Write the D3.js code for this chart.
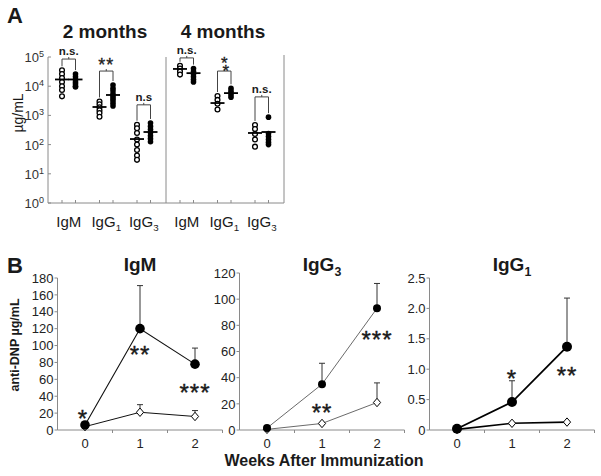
<!DOCTYPE html>
<html><head><meta charset="utf-8">
<script src="https://cdn.jsdelivr.net/npm/d3@7"></script>
<style>body{margin:0;background:#fff} svg{display:block;font-family:"Liberation Sans",Arial,sans-serif}</style>
</head><body><svg id="c" width="601" height="476"></svg>
<script>
// ---------- Panel A data ----------
const monthGroups = ["2 months", "4 months"];
const isotypesA = ["IgM", "IgG1", "IgG3"];
const open2mo = [[35000, 26000, 19000, 14000, 10000, 7400, 4500], [3000, 2400, 1900, 1500, 1200, 900], [480, 360, 250, 150, 100, 65, 42, 30]];
const filled2mo = [[26000, 21000, 17000, 14000, 12000, 10000, 9400], [11000, 8500, 7000, 5500, 4500, 3800, 3200, 2600, 2100], [550, 420, 330, 260, 200, 160, 125]];
const open4mo = [[50000, 40000, 32000, 25000], [4600, 3400, 2500, 1600], [470, 340, 230, 150, 85]];
const filled4mo = [[40000, 32000, 26000, 21000, 17000, 14000], [8500, 7000, 6000, 5000, 4200], [870, 240, 190, 150, 120, 100]];
const meanOpen2mo = [17000, 1940, 155];
const meanFilled2mo = [17000, 5000, 270];
const meanOpen4mo = [39000, 2650, 250];
const meanFilled4mo = [28000, 5800, 270];
const bracketTop2mo = [85000, 33000, 2300];
const bracketTop4mo = [93000, 33000, 4300];
const sig2mo = ["n.s.", "**", "n.s"];
const sig4mo = ["n.s.", "* *", "n.s."];
const yTicksA = [1, 10, 100, 1000, 10000, 100000];

// ---------- Panel B data ----------
const weeks = [0, 1, 2];
const igmFilled = [6, 120, 78], igmFilledErr = [0, 51, 19];
const igmOpen = [4, 21, 16], igmOpenErr = [0, 9, 7];
const igmStars = ["*", "**", "***"], igmStarY = [21, 96, 51];
const igg3Filled = [1.5, 35, 93], igg3FilledErr = [0, 16, 19];
const igg3Open = [0.5, 5, 21], igg3OpenErr = [0, 0, 15];
const igg3Stars = ["", "**", "***"], igg3StarY = [0, 17.6, 74];
const igg1Filled = [0.02, 0.46, 1.37], igg1FilledErr = [0, 0.35, 0.8];
const igg1Open = [0.01, 0.11, 0.13], igg1OpenErr = [0, 0, 0];
const igg1Stars = ["", "*", "**"], igg1StarY = [0, 0.94, 1.0];
const igmTicks = d3.range(0, 181, 20);
const igg3Ticks = d3.range(0, 121, 20);
const igg1Ticks = [0, 0.5, 1, 1.5, 2, 2.5];

const svg = d3.select("#c");
const TXT = "#1a1a1a", AX = "#8a8a8a";

// ================= PANEL A =================
const yA = d3.scaleLog().domain([1, 1e5]).range([203, 57]);
const xMonth = d3.scaleBand().domain(monthGroups).range([48, 284]);
const xIso = d3.scaleBand().domain(isotypesA).range([2, 114.5]);
const dx = xIso.bandwidth() * 0.18;
const gA = svg.append("g");

svg.append("text").attr("x", 7).attr("y", 23).attr("font-size", 22).attr("font-weight", "bold").attr("fill", TXT).text("A");
monthGroups.forEach(m => {
  gA.append("text").attr("x", xMonth(m) + xMonth.bandwidth() / 2 - 2).attr("y", 38)
    .attr("text-anchor", "middle").attr("font-size", 19).attr("font-weight", "bold").attr("fill", TXT).text(m);
});
const [yb, yt] = yA.range();
gA.append("line").attr("x1", 48).attr("x2", 48).attr("y1", yt).attr("y2", yb).attr("stroke", AX);
gA.append("line").attr("x1", 48).attr("x2", xMonth.range()[1]).attr("y1", yb).attr("y2", yb).attr("stroke", AX);
gA.append("line").attr("x1", xMonth(monthGroups[1])).attr("x2", xMonth(monthGroups[1])).attr("y1", yt).attr("y2", yb).attr("stroke", AX);
gA.append("line").attr("x1", xMonth.range()[1]).attr("x2", xMonth.range()[1]).attr("y1", yt - 2).attr("y2", yb).attr("stroke", AX);
yTicksA.forEach(v => {
  gA.append("line").attr("x1", 48).attr("x2", 51).attr("y1", yA(v)).attr("y2", yA(v)).attr("stroke", AX);
  const t = gA.append("text").attr("x", 44).attr("y", yA(v) + 5).attr("text-anchor", "end").attr("font-size", 13).attr("fill", "#333");
  t.append("tspan").text("10");
  t.append("tspan").attr("dy", -5).attr("font-size", 9).text(Math.round(Math.log10(v)));
});
svg.append("text").attr("transform", "translate(23,113) rotate(-90)").attr("text-anchor", "middle")
  .attr("font-size", 14).attr("fill", TXT).text("µg/mL");

function isoLabel(g, x, y, name, size, bold) {
  const t = g.append("text").attr("x", x).attr("y", y).attr("text-anchor", "middle").attr("font-size", size).attr("fill", TXT);
  if (bold) t.attr("font-weight", "bold");
  if (name.startsWith("IgG")) {
    t.append("tspan").text("IgG");
    t.append("tspan").attr("dy", size * 0.25).attr("font-size", size * 0.65).text(name.slice(3));
  } else t.text(name);
  return t;
}

function drawMonth(m, openArr, filledArr, meanO, meanF, tops, sigs) {
  isotypesA.forEach((iso, i) => {
    const cx = xMonth(m) + xIso(iso) + xIso.bandwidth() / 2;
    const xo = cx - dx, xf = cx + dx;
    [xo, xf].forEach(x => gA.append("line").attr("x1", x).attr("x2", x).attr("y1", yb).attr("y2", yb - 3).attr("stroke", AX));
    isoLabel(gA, cx, 227, iso, 15, false);
    gA.selectAll(null).data(openArr[i]).enter().append("circle")
      .attr("cx", xo).attr("cy", d => yA(d)).attr("r", 2.4).attr("fill", "#fff").attr("stroke", "#000").attr("stroke-width", 1.3);
    gA.selectAll(null).data(filledArr[i]).enter().append("circle")
      .attr("cx", xf).attr("cy", d => yA(d)).attr("r", 2.8).attr("fill", "#000");
    gA.append("line").attr("x1", xo - 7).attr("x2", xo + 7).attr("y1", yA(meanO[i])).attr("y2", yA(meanO[i])).attr("stroke", "#000").attr("stroke-width", 1.8);
    gA.append("line").attr("x1", xf - 7).attr("x2", xf + 7).attr("y1", yA(meanF[i])).attr("y2", yA(meanF[i])).attr("stroke", "#000").attr("stroke-width", 1.8);
    const ty = yA(tops[i]);
    const lo = yA(d3.max(openArr[i])) - 4, lf = yA(d3.max(filledArr[i])) - 4;
    gA.append("path").attr("d", `M${xo},${lo}V${ty}H${xf}V${lf}M${cx},${ty}V${ty - 2}`)
      .attr("fill", "none").attr("stroke", "#444").attr("stroke-width", 1);
    const s = sigs[i];
    if (s.startsWith("n")) {
      gA.append("text").attr("x", cx).attr("y", ty - 4).attr("text-anchor", "middle").attr("font-size", 11.5)
        .attr("font-weight", "bold").attr("fill", TXT).text(s);
    } else if (s === "* *") {
      const t = gA.append("text").attr("text-anchor", "middle").attr("font-size", 17).attr("fill", TXT)
        .attr("stroke", TXT).attr("stroke-width", 0.3);
      t.append("tspan").attr("x", cx).attr("y", ty - 12).attr("dy", "0.57em").text("*");
      t.append("tspan").attr("x", cx + 1.5).attr("y", ty - 4).attr("dy", "0.57em").text("*");
    } else {
      gA.append("text").attr("x", cx).attr("y", ty - 10).attr("dy", "0.57em").attr("text-anchor", "middle")
        .attr("font-size", 18).attr("letter-spacing", 1).attr("fill", TXT).attr("stroke", TXT).attr("stroke-width", 0.3).text(s);
    }
  });
}
drawMonth(monthGroups[0], open2mo, filled2mo, meanOpen2mo, meanFilled2mo, bracketTop2mo, sig2mo);
drawMonth(monthGroups[1], open4mo, filled4mo, meanOpen4mo, meanFilled4mo, bracketTop4mo, sig4mo);

// ================= PANEL B =================
svg.append("text").attr("x", 7).attr("y", 273).attr("font-size", 22).attr("font-weight", "bold").attr("fill", TXT).text("B");
svg.append("text").attr("transform", "translate(19,345) rotate(-90)").attr("text-anchor", "middle")
  .attr("font-size", 12.5).attr("font-weight", "bold").attr("fill", TXT).text("anti-DNP µg/mL");
svg.append("text").attr("x", 324).attr("y", 466).attr("text-anchor", "middle").attr("font-size", 16)
  .attr("font-weight", "bold").attr("fill", TXT).text("Weeks After Immunization");

function diamond(hw, hh) { return `M0,${-hh}L${hw},0L0,${hh}L${-hw},0Z`; }

function drawB(cfg) {
  const g = svg.append("g");
  const y = d3.scaleLinear().domain(cfg.domain).range([430, cfg.top]);
  const x = d3.scaleBand().domain(weeks).range(cfg.xr);
  const x0 = cfg.xr[0];
  g.append("line").attr("x1", x0).attr("x2", x0).attr("y1", y(cfg.domain[0])).attr("y2", y(cfg.domain[1])).attr("stroke", AX);
  g.append("line").attr("x1", x0).attr("x2", cfg.xr[1]).attr("y1", 430).attr("y2", 430).attr("stroke", AX);
  cfg.ticks.forEach(v => {
    g.append("line").attr("x1", x0 - 3).attr("x2", x0).attr("y1", y(v)).attr("y2", y(v)).attr("stroke", AX);
    g.append("text").attr("x", x0 - 4).attr("y", y(v)).attr("dy", "0.36em").attr("text-anchor", "end")
      .attr("font-size", 13).attr("fill", "#222").text(cfg.fmt(v));
  });
  weeks.forEach(w => {
    g.append("line").attr("x1", x(w) + x.bandwidth()).attr("x2", x(w) + x.bandwidth()).attr("y1", 430).attr("y2", 433).attr("stroke", AX);
    g.append("text").attr("x", x(w) + x.bandwidth() / 2).attr("y", 448).attr("text-anchor", "middle")
      .attr("font-size", 13).attr("fill", "#222").text(w);
  });
  isoLabel(g, cfg.titleX, 271, cfg.title, 19, true);
  const cx = w => x(w) + x.bandwidth() / 2;
  const line = d3.line().x((d, i) => cx(weeks[i])).y(d => y(d));
  [[cfg.open, cfg.openErr], [cfg.filled, cfg.filledErr]].forEach(([vals, errs]) => {
    vals.forEach((v, i) => {
      if (!errs[i]) return;
      const X = cx(weeks[i]);
      g.append("path").attr("d", `M${X},${y(v)}V${y(v + errs[i])}M${X - 3},${y(v + errs[i])}H${X + 3}`)
        .attr("stroke", "#333").attr("stroke-width", 1).attr("fill", "none");
    });
  });
  g.append("path").attr("d", line(cfg.open)).attr("fill", "none").attr("stroke", cfg.lc).attr("stroke-width", cfg.lwOpen);
  g.append("path").attr("d", line(cfg.filled)).attr("fill", "none").attr("stroke", cfg.lc).attr("stroke-width", cfg.lwFilled);
  g.selectAll(null).data(cfg.open).enter().append("path")
    .attr("transform", (d, i) => `translate(${cx(weeks[i])},${y(d)})`).attr("d", diamond(3.6, 4.2))
    .attr("fill", "#fff").attr("stroke", "#000").attr("stroke-width", 1);
  g.selectAll(null).data(cfg.filled).enter().append("circle")
    .attr("cx", (d, i) => cx(weeks[i])).attr("cy", d => y(d)).attr("r", cfg.r).attr("fill", "#000");
  cfg.stars.forEach((s, i) => {
    if (!s) return;
    g.append("text").attr("x", cx(weeks[i]) + (i === 0 ? -2 : 0)).attr("y", y(cfg.starY[i])).attr("dy", "0.6em")
      .attr("text-anchor", "middle").attr("font-size", 24).attr("letter-spacing", 1).attr("fill", TXT)
      .attr("stroke", TXT).attr("stroke-width", 0.4).text(s);
  });
}
drawB({ domain: [0, 180], top: 278, xr: [57.5, 222.5], ticks: igmTicks, fmt: d3.format("d"), title: "IgM", titleX: 140,
  open: igmOpen, openErr: igmOpenErr, filled: igmFilled, filledErr: igmFilledErr, stars: igmStars, starY: igmStarY,
  lc: "#111", lwOpen: 1, lwFilled: 1.1, r: 4.8 });
drawB({ domain: [0, 120], top: 273, xr: [239.5, 404.5], ticks: igg3Ticks, fmt: d3.format("d"), title: "IgG3", titleX: 322,
  open: igg3Open, openErr: igg3OpenErr, filled: igg3Filled, filledErr: igg3FilledErr, stars: igg3Stars, starY: igg3StarY,
  lc: "#444", lwOpen: 0.8, lwFilled: 0.8, r: 4 });
drawB({ domain: [0, 2.5], top: 278, xr: [429.5, 594.5], ticks: igg1Ticks, fmt: v => v === 0 ? "0" : v.toFixed(1), title: "IgG1", titleX: 512,
  open: igg1Open, openErr: igg1OpenErr, filled: igg1Filled, filledErr: igg1FilledErr, stars: igg1Stars, starY: igg1StarY,
  lc: "#000", lwOpen: 1.6, lwFilled: 1.8, r: 5 });
</script></body></html>
